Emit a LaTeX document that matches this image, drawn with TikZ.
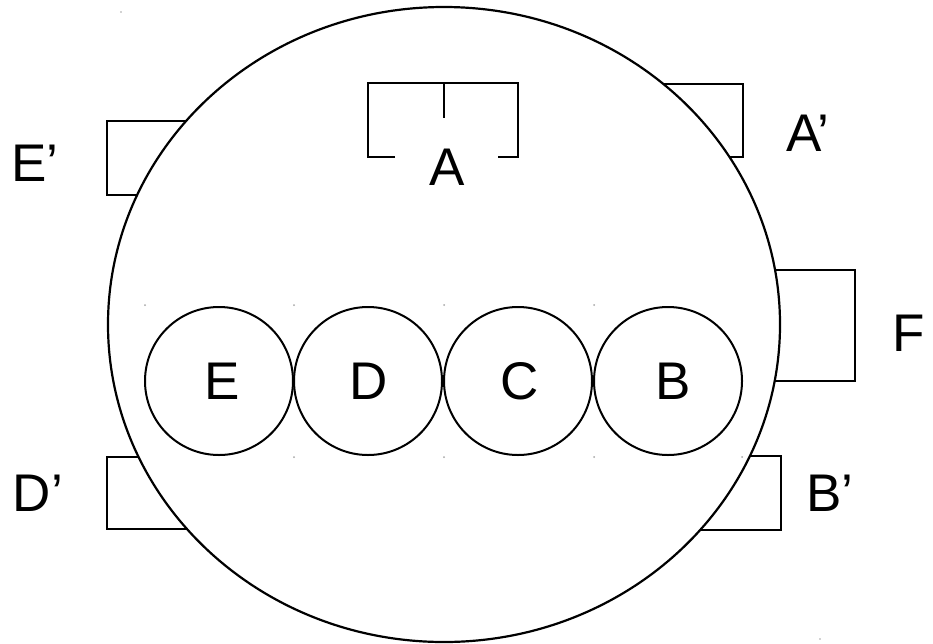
\documentclass[tikz,border=0pt]{standalone}
\usepackage{fontspec}
\setmainfont{Liberation Sans}
\usetikzlibrary{shapes.geometric}
\begin{document}
\begin{tikzpicture}[x=1pt,y=-1pt,
  boxline/.style={line width=2.4pt, line join=miter},
  lbl/.style={font=\fontsize{53}{60}\selectfont, inner sep=0pt},
  cyl/.style={draw, circle, line width=2pt, minimum size=148pt, inner sep=0pt},
  speck/.style={fill=gray!70}]
\useasboundingbox (0,0) rectangle (933,643);
% side ports (partly hidden behind the body)
\draw[boxline] (250,121) -| (107,195) -- (250,195);
\draw[boxline] (640,84) -| (743,157) -- (640,157);
\draw[boxline] (700,270) -| (855,381) -- (700,381);
\draw[boxline] (250,457) -| (107,529) -- (250,529);
\draw[boxline] (640,456) -| (781,530) -- (640,530);
% body
\node[draw, fill=white, ellipse, line width=2.2pt, minimum width=672pt, minimum height=635pt, inner sep=0pt] (body) at (444,324.5) {};
% bracket A
\coordinate (a1) at (395,157);
\coordinate (a2) at (498,157);
\coordinate (am) at (444,118);
\draw[boxline] (a1) -- (368,157) -- (368,83) -- (518,83) -- (518,157) -- (a2);
\draw[boxline] (444,83) -- (am);
\node[lbl] (A) at (447,167) {A};
% cylinders
\node[cyl] (E) at (219,381) {};
\node[cyl] (D) at (368,381) {};
\node[cyl] (C) at (518,381) {};
\node[cyl] (B) at (668,381) {};
\node[lbl] (tE) at (222,381) {E};
\node[lbl] (tD) at (369,381) {D};
\node[lbl] (tC) at (520,381) {C};
\node[lbl] (tB) at (673,381) {B};
% specks
\foreach \x in {145,294,444,594} \fill[speck] (\x,305) circle[radius=1];
\foreach \x in {294,444,594,742} \fill[speck] (\x,457) circle[radius=1];
\fill[speck] (121,12) circle[radius=0.8];
\fill[speck] (820,639) circle[radius=0.8];
% labels
\node[lbl] (Ep) at (35,163) {E’};
\node[lbl] (Ap) at (808,133) {A’};
\node[lbl] (F) at (909,333) {F};
\node[lbl] (Dp) at (38,493) {D’};
\node[lbl] (Bp) at (830,493) {B’};
\end{tikzpicture}
\end{document}
